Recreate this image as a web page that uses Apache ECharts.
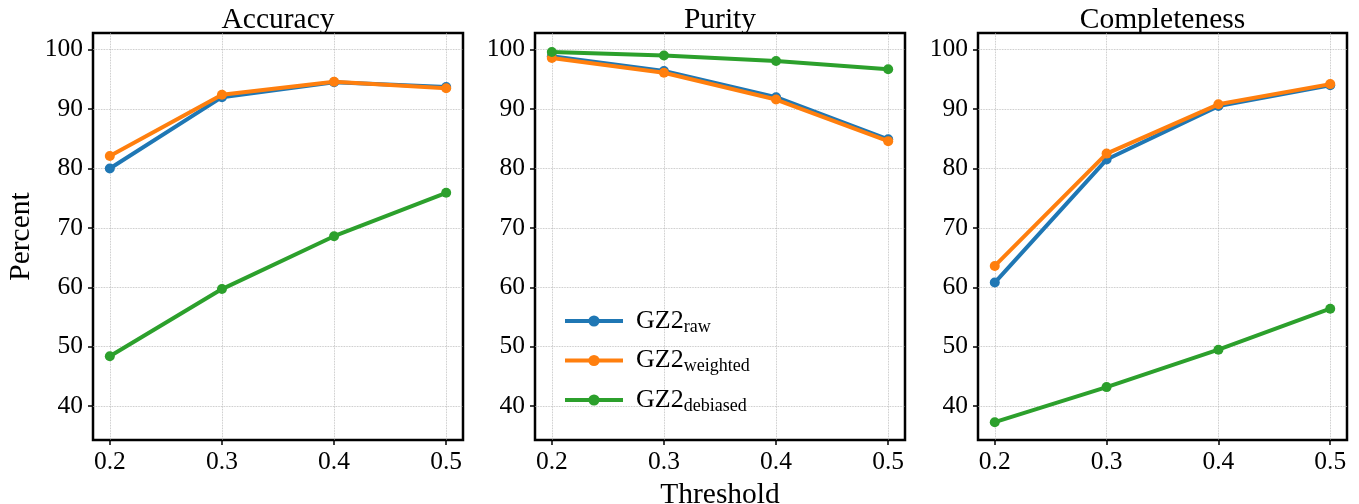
<!DOCTYPE html>
<html>
<head>
<meta charset="utf-8">
<script src="https://cdn.jsdelivr.net/npm/echarts@6/dist/echarts.min.js"></script>
<style>html,body{margin:0;padding:0;background:#fff}#c{width:1359px;height:504px}</style>
</head>
<body>
<div id="c"></div>
<script>
const thresholds = [0.2, 0.3, 0.4, 0.5];
const panelTitles = ['Accuracy', 'Purity', 'Completeness'];
const yTicks = [40, 50, 60, 70, 80, 90, 100];
const xTicks = [0.2, 0.3, 0.4, 0.5];
const seriesNames = ['raw', 'weighted', 'debiased'];

const accuracyRaw = [80.0, 92.0, 94.5, 93.7];
const accuracyWeighted = [82.1, 92.4, 94.6, 93.5];
const accuracyDebiased = [48.4, 59.7, 68.6, 75.9];

const purityRaw = [98.9, 96.4, 92.0, 84.9];
const purityWeighted = [98.6, 96.1, 91.6, 84.6];
const purityDebiased = [99.6, 99.0, 98.1, 96.7];

const completenessRaw = [60.8, 81.5, 90.5, 94.0];
const completenessWeighted = [63.6, 82.5, 90.8, 94.2];
const completenessDebiased = [37.3, 43.2, 49.5, 56.4];

const panels = [
  [accuracyRaw, accuracyWeighted, accuracyDebiased],
  [purityRaw, purityWeighted, purityDebiased],
  [completenessRaw, completenessWeighted, completenessDebiased]
];
const colors = ['#1f77b4', '#ff7f0e', '#2ca02c'];
const FONT = 'Liberation Serif';

const gridPos = [
  {left: 93, width: 370},
  {left: 535, width: 370},
  {left: 978, width: 369}
];

const grids = gridPos.map(g => ({
  left: g.left, width: g.width, top: 33, height: 407,
  outerBoundsMode: 'none', containLabel: false,
  show: true, borderColor: '#000', borderWidth: 2.5, backgroundColor: 'transparent'
}));

const xAxes = gridPos.map((g, i) => ({
  type: 'value', gridIndex: i, min: 0.185, max: 0.515,
  axisLine: {show: false},
  axisTick: {show: true, length: 5, lineStyle: {color: '#000', width: 1.5}, customValues: xTicks},
  axisLabel: {customValues: xTicks, color: '#000', fontFamily: FONT, fontSize: 25.5, margin: 9,
    formatter: v => v.toFixed(1)},
  splitLine: {show: true, lineStyle: {type: 'dotted', color: '#b5b5b5', width: 0.8}},
  name: i === 1 ? 'Threshold' : '', nameLocation: 'middle', nameGap: 37,
  nameTextStyle: {color: '#000', fontFamily: FONT, fontSize: 29.5}
}));

const yAxes = gridPos.map((g, i) => ({
  type: 'value', gridIndex: i, min: 34.3, max: 102.8,
  axisLine: {show: false},
  axisTick: {show: true, length: 5, lineStyle: {color: '#000', width: 1.5}, customValues: yTicks},
  axisLabel: {customValues: yTicks, color: '#000', fontFamily: FONT, fontSize: 25.5, margin: 10},
  splitLine: {show: true, lineStyle: {type: 'dotted', color: '#b5b5b5', width: 0.8}},
  name: i === 0 ? 'Percent' : '', nameLocation: 'middle', nameGap: 57, nameRotate: 90,
  nameTextStyle: {color: '#000', fontFamily: FONT, fontSize: 29.5}
}));

const series = [];
panels.forEach((p, pi) => {
  p.forEach((vals, si) => {
    series.push({
      type: 'line', name: 'GZ2' + seriesNames[si], xAxisIndex: pi, yAxisIndex: pi,
      data: thresholds.map((t, k) => [t, vals[k]]),
      symbol: 'circle', symbolSize: 10, showSymbol: true,
      lineStyle: {width: 4, color: colors[si]},
      itemStyle: {color: colors[si]},
      z: 2 + si
    });
  });
});

const titles = panelTitles.map((t, i) => ({
  text: t, left: gridPos[i].left + gridPos[i].width / 2 - 5, top: 0, textAlign: 'center',
  textStyle: {color: '#000', fontFamily: FONT, fontSize: 29.5, fontWeight: 'normal'}
}));

const chart = echarts.init(document.getElementById('c'));
chart.setOption({
  animation: false,
  title: titles,
  grid: grids,
  xAxis: xAxes,
  yAxis: yAxes,
  legend: {
    data: seriesNames.map(s => 'GZ2' + s),
    orient: 'vertical', left: 558, top: 303,
    itemWidth: 58, itemHeight: 14, itemGap: 11.5,
    lineStyle: {width: 'inherit'},
    formatter: name => '{m|GZ2}{s|' + name.slice(3) + '}',
    textStyle: {
      color: '#000', fontFamily: FONT,
      rich: {
        m: {fontFamily: FONT, fontSize: 26, color: '#000', padding: [0, 0, 0, 8]},
        s: {fontFamily: FONT, fontSize: 18, color: '#000', verticalAlign: 'bottom', padding: [12, 0, 0, 0]}
      }
    }
  },
  series: series
});
</script>
</body>
</html>
